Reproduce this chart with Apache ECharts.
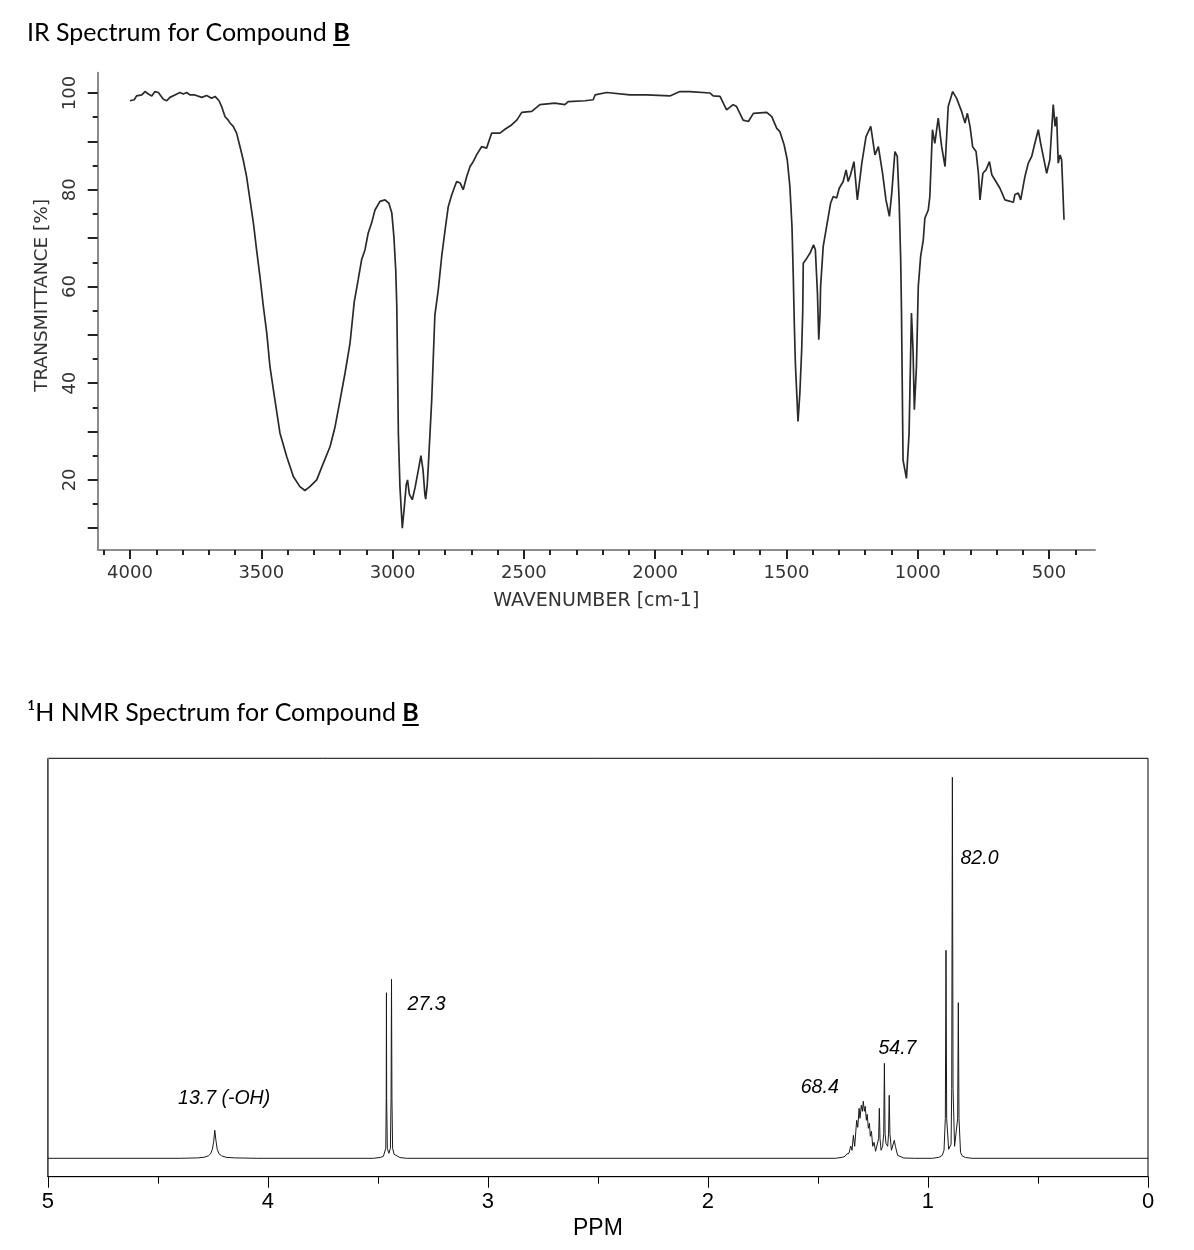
<!DOCTYPE html>
<html>
<head>
<meta charset="utf-8">
<script src="https://cdn.jsdelivr.net/npm/echarts@6/dist/echarts.min.js"></script>
<style>
html,body{margin:0;padding:0;background:#fff;}
#chart{width:1194px;height:1250px;}
</style>
</head>
<body>
<div id="chart"></div>
<script>
// ---------- IR spectrum (wavenumber cm-1, transmittance %) ----------
const irWavenumber = [4000,3984,3975,3955,3943,3930,3917,3905,3892,3873,3860,3848,3829,3810,3797,3784,3772,3753,3727,3708,3689,3676,3661,3651,3638,3626,3619,3607,3594,3581,3569,3556,3543,3530,3518,3505,3492,3479,3467,3448,3429,3403,3378,3353,3334,3315,3289,3264,3238,3219,3200,3181,3162,3146,3131,3118,3105,3093,3080,3067,3048,3029,3014,3003,2995,2988,2984,2981,2978,2972,2963,2956,2948,2943,2936,2925,2914,2902,2892,2884,2877,2874,2868,2864,2851,2839,2826,2813,2800,2788,2775,2756,2743,2731,2718,2705,2693,2680,2661,2642,2623,2591,2572,2547,2527,2508,2470,2439,2382,2344,2331,2267,2236,2229,2185,2096,2032,1944,1906,1868,1791,1779,1753,1728,1703,1690,1665,1645,1626,1575,1556,1537,1525,1509,1497,1487,1479,1474,1470,1466,1456,1449,1442,1438,1436,1423,1410,1397,1390,1382,1377,1372,1370,1360,1347,1332,1322,1309,1299,1284,1273,1265,1256,1243,1230,1213,1197,1179,1163,1150,1134,1121,1108,1099,1087,1078,1071,1065,1062,1056,1043,1033,1024,1018,1013,1005,998,989,979,973,960,954,944,935,922,909,896,884,867,852,833,820,811,801,791,778,769,763,752,740,727,718,699,687,668,636,630,617,608,592,579,566,554,541,532,522,509,497,490,484,477,471,465,458,452,443];
const irTransmittance = [98.4,98.6,99.4,99.6,100.3,99.8,99.4,100.3,100.1,98.7,98.4,99.1,99.6,100.1,99.8,100.1,99.6,99.6,99.1,99.5,98.9,99.3,98.4,97.2,95.1,94.4,93.8,93.1,91.7,88.9,86.2,82.7,77.9,73.1,67.6,62,55.8,50.3,43.4,36.5,29.7,24.8,20.7,18.6,17.8,18.6,20,23.4,26.9,31,36.5,42.1,48.3,56.8,61.4,65.5,67.6,71,73.1,75.8,77.6,77.9,77.2,75.2,70.3,63.4,56,43.4,29.7,18.6,10,14,19,20,17,15.9,18.5,22,25,22,17,16,19,22.8,36.5,54,59.3,66.2,71.7,76.5,78.9,81.7,81.4,80,82.7,84.8,85.8,87.2,88.9,88.6,91.7,91.7,92.5,93.4,94.4,96,96.2,97.6,97.9,97.6,98.2,98.4,98.6,99.6,100.1,99.6,99.6,99.4,100.3,100.3,100,99.4,99.3,96.5,97.6,97.2,94.4,94.1,95.8,96,95.1,92.7,92,89.3,86.2,80.7,72.4,62,52,44,32.1,37.9,46.9,55,64.8,65.8,66.9,68.6,67.6,58.6,49,54.5,60,68.3,72.4,77.2,78.6,78.3,80.3,81.7,84.1,81.7,83.1,85.8,77.9,85.5,91,93.1,87.2,88.9,83.4,77.9,74.5,79.3,87.9,86.9,77.9,65.5,55,24.1,20.3,29.7,54.5,46.9,34.5,43.4,60,66.2,69.6,74.1,75.8,78.6,92.4,89.6,94.8,88.9,84.8,97.2,100.3,98.9,96.2,93.8,95.8,93.1,88.9,87.9,83.4,77.9,83.4,84.1,85.8,83.1,81.4,80.3,77.9,77.4,79,79.3,77.9,82.7,85.5,86.9,89.6,92.4,89.6,86.9,83.4,86.2,92.4,97.6,93.1,95.1,85.5,87.2,86.2,73.8];
const irMajorTicksX = [4000,3500,3000,2500,2000,1500,1000,500];
const irMinorTicksX = [4100,3900,3800,3700,3600,3400,3300,3200,3100,2900,2800,2700,2600,2400,2300,2200,2100,1900,1800,1700,1600,1400,1300,1200,1100,900,800,700,600,400];
const irMajorTicksY = [10,20,30,40,50,60,70,80,90,100];
const irLabelTicksY = [20,40,60,80,100];
const irMinorTicksY = [15,25,35,45,55,65,75,85,95];

// ---------- 1H NMR spectrum (ppm, relative intensity) ----------
const nmrPpm = [5.00,4.40,4.32,4.29,4.27,4.26,4.252,4.246,4.241,4.236,4.230,4.222,4.21,4.19,4.15,4.05,
  3.52,3.49,3.475,3.468,3.464,3.462,3.461,3.460,3.457,3.450,3.443,3.440,3.438,3.436,3.433,3.426,3.418,3.40,3.37,
  1.42,1.39,1.377,1.369,1.363,1.359,1.351,1.345,1.339,1.333,1.324,1.319,1.313,1.309,1.303,1.298,1.294,1.289,1.285,1.280,1.276,1.271,1.266,1.262,1.257,1.251,1.245,1.238,1.230,1.224,1.221,1.218,1.213,1.206,1.201,1.198,1.195,1.191,1.183,1.179,1.176,1.173,1.166,1.160,1.153,1.148,1.144,1.138,1.130,1.11,1.06,
  0.98,0.95,0.935,0.927,0.921,0.918,0.915,0.906,0.895,0.892,0.889,0.886,0.879,0.871,0.865,0.862,0.859,0.852,0.845,0.83,0.80,0.00];
const nmrIntensity = [0,0,0.4,1,2.5,4.5,9,17,28,18,9,4.5,2.5,1,0.4,0,
  0,0.8,2,4,10,60,165.6,60,10,5,10,60,179,60,10,4,2,0.8,0,
  0,1,2,4.3,3.3,5,12.3,8,23,12,38,31,50,40,53,47,57,47,52,38,44,30,35,22,27,12,16,7,8,20,50,20,8,12,25,95,25,15,12,25,63,25,8,7,18,12,13,3,1,0.3,0,
  0,1,3,8,40,208,40,9,14,70,381,70,12,10,40,155.6,40,6,2.5,0.8,0,0];
const nmrLabelText = ['13.7 (-OH)','27.3','68.4','54.7','82.0'];
const nmrLabelPpm = [4.408,3.365,1.578,1.225,0.852];
const nmrLabelY = [59.3,153.3,70.3,109.3,299.3];

// ---------- build ----------
const irData = irWavenumber.map((w, i) => [w, irTransmittance[i]]);
const nmrData = nmrPpm.map((p, i) => [p, nmrIntensity[i]]);
const nmrLabels = nmrLabelText.map((t, i) => [nmrLabelPpm[i], nmrLabelY[i], t]);

const titleFont = 'Lato';
const titleSize = 25;
function textWidth(str, font) {
  const c = document.createElement('canvas').getContext('2d');
  c.font = font;
  return c.measureText(str).width;
}
const titleLeft = 27;
const irPre = 'IR Spectrum for Compound ';
const nmrPre = '\u00B9H NMR Spectrum for Compound ';
const wIrPre = textWidth(irPre, `normal ${titleSize}px ${titleFont}`);
const wNmrPre = textWidth(nmrPre, `normal ${titleSize}px ${titleFont}`);
const wB = textWidth('B', `bold ${titleSize}px ${titleFont}`);

const axisFont = 'DejaVu Sans';
const irAxisColor = '#333';
const plain = v => String(v);

const chart = echarts.init(document.getElementById('chart'), null, {renderer: 'canvas'});
const titleStyle = {
  fontFamily: titleFont, fontSize: titleSize, fontWeight: 'normal', color: '#000',
  rich: {b: {fontFamily: titleFont, fontSize: titleSize, fontWeight: 'bold', color: '#000'}}
};
const option = {
  animation: false,
  backgroundColor: '#fff',
  title: [
    {left: titleLeft, top: 20, padding: 0, text: irPre + '{b|B}', textStyle: titleStyle},
    {left: titleLeft, top: 700, padding: 0, text: nmrPre + '{b|B}', textStyle: titleStyle}
  ],
  graphic: [
    {type: 'line', silent: true, shape: {x1: titleLeft + wIrPre, y1: 45, x2: titleLeft + wIrPre + wB, y2: 45}, style: {stroke: '#000', lineWidth: 2}},
    {type: 'line', silent: true, shape: {x1: titleLeft + wNmrPre, y1: 725, x2: titleLeft + wNmrPre + wB, y2: 725}, style: {stroke: '#000', lineWidth: 2}}
  ],
  grid: [
    {left: 97.7, top: 72.7, width: 997.3, height: 477.3},
    {left: 47.8, top: 758.3, width: 1100.2, height: 418.4, show: true, borderColor: '#000', borderWidth: 1, backgroundColor: 'transparent'}
  ],
  xAxis: [
    {
      gridIndex: 0, type: 'value', position: 'bottom', inverse: true, min: 325, max: 4123,
      axisLine: {show: true, onZero: false, lineStyle: {color: '#8c8c8c', width: 2}},
      axisTick: {show: true, inside: false, customValues: irMajorTicksX, length: 9, lineStyle: {color: '#222', width: 2}},
      axisLabel: {show: true, customValues: irMajorTicksX, formatter: plain, margin: 14, fontFamily: axisFont, fontSize: 18, color: irAxisColor},
      splitLine: {show: false}, minorTick: {show: false},
      name: 'WAVENUMBER [cm-1]', nameLocation: 'middle', nameGap: 42,
      nameTextStyle: {fontFamily: axisFont, fontSize: 19, color: irAxisColor}
    },
    {
      gridIndex: 0, type: 'value', position: 'bottom', inverse: true, min: 325, max: 4123,
      axisLine: {show: false, onZero: false},
      axisTick: {show: true, inside: false, customValues: irMinorTicksX, length: 5, lineStyle: {color: '#222', width: 2}},
      axisLabel: {show: false}, splitLine: {show: false}
    },
    {
      gridIndex: 1, type: 'value', position: 'bottom', inverse: true, min: 0, max: 5, interval: 1,
      axisLine: {show: true, onZero: false, lineStyle: {color: '#000', width: 1}},
      axisTick: {show: true, inside: false, length: 11, lineStyle: {color: '#000', width: 1}},
      minorTick: {show: true, splitNumber: 2, length: 7, lineStyle: {color: '#000', width: 1}},
      axisLabel: {show: true, margin: 14, formatter: plain, fontFamily: 'Liberation Sans', fontSize: 22, color: '#000', showMinLabel: true, showMaxLabel: true},
      splitLine: {show: false}, minorSplitLine: {show: false},
      name: 'PPM', nameLocation: 'middle', nameGap: 40,
      nameTextStyle: {fontFamily: 'Liberation Sans', fontSize: 23, color: '#000'}
    }
  ],
  yAxis: [
    {
      gridIndex: 0, type: 'value', position: 'left', min: 5.5, max: 104.2,
      axisLine: {show: true, onZero: false, lineStyle: {color: '#8c8c8c', width: 2}},
      axisTick: {show: true, inside: false, customValues: irMajorTicksY, length: 10, lineStyle: {color: '#222', width: 2}},
      axisLabel: {show: true, customValues: irLabelTicksY, formatter: plain, rotate: 90, margin: 18, fontFamily: axisFont, fontSize: 18, color: irAxisColor},
      splitLine: {show: false},
      name: 'TRANSMITTANCE [%]', nameLocation: 'middle', nameGap: 46, nameRotate: 90,
      nameTextStyle: {fontFamily: axisFont, fontSize: 18.5, color: irAxisColor, padding: [0, 0, 0, 32]}
    },
    {
      gridIndex: 0, type: 'value', position: 'left', min: 5.5, max: 104.2,
      axisLine: {show: false, onZero: false},
      axisTick: {show: true, inside: false, customValues: irMinorTicksY, length: 5, lineStyle: {color: '#222', width: 2}},
      axisLabel: {show: false}, splitLine: {show: false}
    },
    {
      gridIndex: 1, type: 'value', position: 'left', min: -18.4, max: 400,
      axisLine: {show: true, onZero: false, lineStyle: {color: '#777', width: 1}},
      axisTick: {show: false}, axisLabel: {show: false}, splitLine: {show: false}
    }
  ],
  series: [
    {
      type: 'line', xAxisIndex: 0, yAxisIndex: 0, data: irData,
      showSymbol: false, symbol: 'none', smooth: false,
      lineStyle: {color: '#2a2a2a', width: 1.7}, silent: true
    },
    {
      type: 'line', xAxisIndex: 2, yAxisIndex: 2, data: nmrData,
      showSymbol: false, symbol: 'none', smooth: false,
      lineStyle: {color: '#1a1a1a', width: 1}, silent: true
    },
    {
      type: 'scatter', xAxisIndex: 2, yAxisIndex: 2, data: nmrLabels,
      symbolSize: 0, silent: true,
      itemStyle: {opacity: 1},
      label: {
        show: true, position: 'right', distance: 0,
        formatter: p => p.value[2],
        fontFamily: 'Liberation Sans', fontStyle: 'italic', fontSize: 19.5, color: '#000', opacity: 1
      }
    }
  ]
};
chart.setOption(option);
</script>
</body>
</html>
